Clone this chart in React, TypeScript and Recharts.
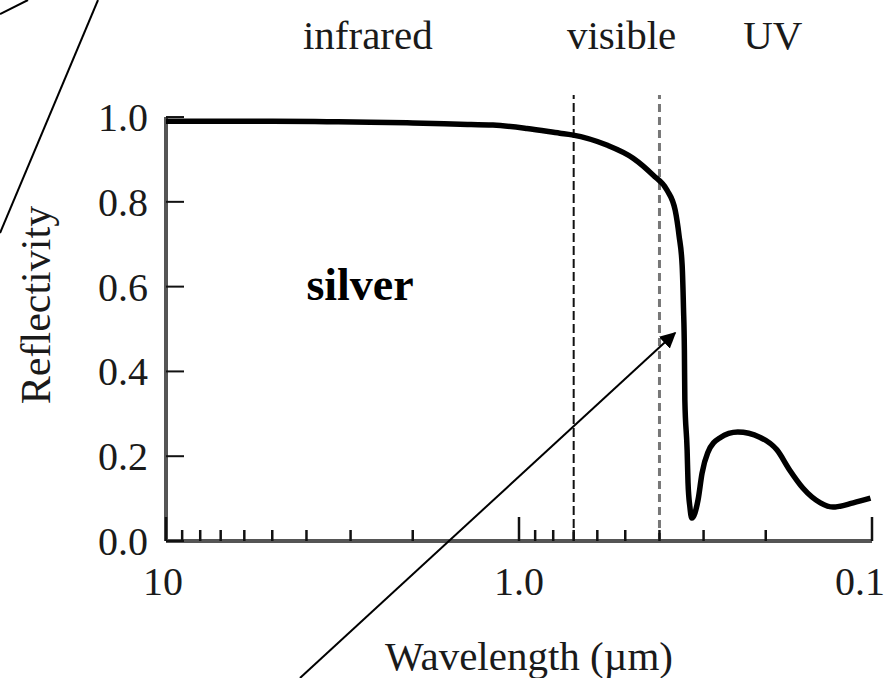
import React from "react";
import {
  LineChart,
  Line,
  XAxis,
  YAxis,
  Label,
  ReferenceLine,
  ReferenceArea,
  ReferenceDot,
} from "recharts";

// silver reflectivity vs wavelength (µm)
const wavelength = [
  10, 7.5, 5, 3.5, 2.64, 2, 1.47, 1.185, 0.949, 0.766, 0.708, 0.564, 0.475,
  0.417, 0.381, 0.361, 0.352, 0.345, 0.342, 0.34, 0.339, 0.334, 0.332, 0.328,
  0.324, 0.311, 0.303, 0.292, 0.27, 0.24, 0.208, 0.186, 0.171, 0.157, 0.14,
  0.129, 0.113, 0.101,
];
const reflectivity = [
  0.99, 0.99, 0.99, 0.989, 0.988, 0.986, 0.983, 0.981, 0.973, 0.962, 0.958,
  0.934, 0.903, 0.863, 0.828, 0.78, 0.72, 0.65, 0.55, 0.45, 0.333, 0.215, 0.137,
  0.08, 0.054, 0.097, 0.16, 0.208, 0.243, 0.257, 0.245, 0.215, 0.167, 0.125,
  0.09, 0.08, 0.09, 0.101,
];

const xTicks = [10, 9, 8, 7, 6, 5, 4, 3, 2, 1, 0.9, 0.8, 0.7, 0.6, 0.5, 0.4, 0.3, 0.2, 0.1];
const xLabels: Record<number, string> = { 10: "10", 1: "1.0", 0.1: "0.1" };
const yTicks = [0, 0.2, 0.4, 0.6, 0.8, 1.0];

// spectral bands marked above the plot
const bandEdges = [10, 0.7, 0.4, 0.1];
const bandNames = ["infrared", "visible", "UV"];

const SERIF = "'Liberation Serif', 'Times New Roman', serif";
const INK = "#1a1a1a";

const XTick = (props: any) => {
  const { x, y, payload } = props;
  const v = payload.value;
  const label = xLabels[v];
  const shift = v === 0.1 ? -12 : v === 10 ? -3 : 0;
  return (
    <g>
      <line x1={x} y1={y} x2={x} y2={y - (label ? 24 : 11)} stroke="#111" strokeWidth={2.5} />
      {label && (
        <text x={x + shift} y={y + 54} textAnchor="middle" fontFamily={SERIF} fontSize={40} fill={INK}>
          {label}
        </text>
      )}
    </g>
  );
};

const YTick = (props: any) => {
  const { x, y, payload } = props;
  return (
    <g>
      <line x1={x} y1={y} x2={x + 18} y2={y} stroke="#111" strokeWidth={2} />
      <text x={x - 18} y={y + 14} textAnchor="end" fontFamily={SERIF} fontSize={40} fill={INK}>
        {payload.value.toFixed(1)}
      </text>
    </g>
  );
};

const YTitle = (props: any) => {
  const vb = props.viewBox || { x: 0, y: 95, width: 166, height: 446 };
  const cx = vb.x + 50;
  const cy = vb.y + vb.height / 2 - 13;
  return (
    <text x={cx} y={cy} transform={`rotate(-90 ${cx} ${cy})`} textAnchor="middle" fontFamily={SERIF} fontSize={42} fill={INK}>
      Reflectivity
    </text>
  );
};

const XTitle = (props: any) => {
  const vb = props.viewBox || { x: 166, y: 541, width: 706, height: 137 };
  return (
    <text x={vb.x + vb.width / 2 + 10} y={vb.y + 129} textAnchor="middle" fontFamily={SERIF} fontSize={41} fill={INK}>
      Wavelength (µm)
    </text>
  );
};

export default function App() {
  const data = wavelength.map((wl, i) => ({ wl, r: reflectivity[i] }));

  return (
    <div style={{ position: "absolute", left: 0, top: 0, width: 884, height: 678, background: "#fff" }}>
      <LineChart width={884} height={678} data={data} margin={{ top: 95, right: 12, bottom: 0, left: 0 }}>
        <XAxis
          dataKey="wl"
          type="number"
          scale="log"
          domain={[0.1, 10]}
          reversed
          ticks={xTicks}
          interval={0}
          height={137}
          tick={<XTick />}
          tickLine={false}
          tickSize={0}
          tickMargin={0}
          axisLine={{ stroke: "#555", strokeWidth: 4 }}
        >
          <Label content={XTitle} />
        </XAxis>
        <YAxis
          type="number"
          domain={[0, 1.052]}
          ticks={yTicks}
          interval={0}
          width={166}
          tick={<YTick />}
          tickLine={false}
          tickSize={0}
          tickMargin={0}
          axisLine={false}
        >
          <Label content={YTitle} />
        </YAxis>

        {/* left axis only runs up to 1.0 */}
        <ReferenceLine
          segment={[{ x: 10, y: 0 }, { x: 10, y: 1 }]}
          stroke="#555"
          strokeWidth={4}
        />

        {bandNames.map((name, i) => (
          <ReferenceArea
            key={name}
            x1={bandEdges[i]}
            x2={bandEdges[i + 1]}
            fillOpacity={0}
            strokeOpacity={0}
            label={{
              value: name,
              position: "top",
              offset: 46,
              fontFamily: SERIF,
              fontSize: 41,
              fill: INK,
              dx: i === 0 ? -2 : i === 1 ? 5 : 7,
            }}
          />
        ))}

        <ReferenceLine x={0.7} stroke="#111" strokeWidth={2} strokeDasharray="9 4" />
        <ReferenceLine x={0.4} stroke="#777" strokeWidth={3} strokeDasharray="8 5" />

        <ReferenceDot
          x={2.82}
          y={0.607}
          r={0}
          fill="none"
          stroke="none"
          label={{
            value: "silver",
            position: "center",
            fontFamily: SERIF,
            fontSize: 46,
            fontWeight: "bold",
            fill: "#000",
          }}
        />

        <Line
          dataKey="r"
          type="monotone"
          stroke="#000"
          strokeWidth={5.5}
          dot={false}
          isAnimationActive={false}
        />
      </LineChart>

      {/* loose annotation strokes drawn over the figure */}
      <svg
        width={884}
        height={678}
        style={{ position: "absolute", left: 0, top: 0, pointerEvents: "none" }}
      >
        <defs>
          <marker id="head" viewBox="0 0 10 10" refX="9" refY="5" markerWidth="8" markerHeight="8" orient="auto">
            <path d="M0,0 L10,5 L0,10 z" fill="#000" />
          </marker>
        </defs>
        <line x1={0} y1={14} x2={28} y2={0} stroke="#000" strokeWidth={2} />
        <line x1={98} y1={0} x2={0} y2={233} stroke="#000" strokeWidth={2} />
        <line x1={300} y1={678} x2={675} y2={333} stroke="#000" strokeWidth={2} markerEnd="url(#head)" />
      </svg>
    </div>
  );
}
